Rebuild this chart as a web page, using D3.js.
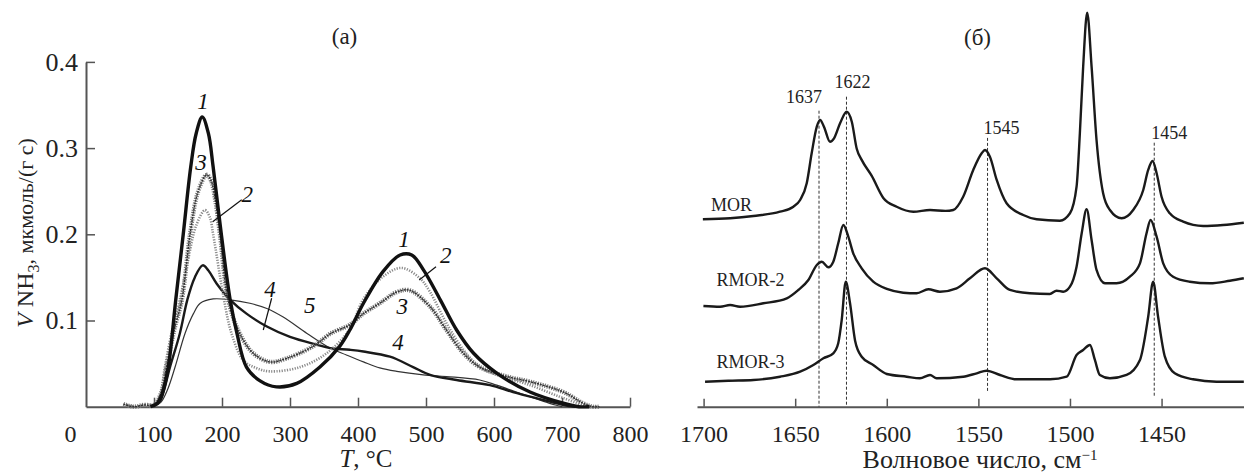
<!DOCTYPE html>
<html><head><meta charset="utf-8">
<script src="https://cdn.jsdelivr.net/npm/d3@7"></script>
<style>
html,body{margin:0;padding:0;background:#fff;}
svg{display:block;font-family:"Liberation Serif","Times New Roman",serif;}
</style></head>
<body>
<svg id="c" width="1244" height="475"></svg>
<script>
// ---------- Panel (a): TPD of NH3 ----------
const xTicksA = [0,100,200,300,400,500,600,700,800];
const yTicksA = [0.1,0.2,0.3,0.4];
const curve1 = [[95,0],[105,0.004],[112,0.015],[121,0.046],[132,0.124],[143,0.2],[154,0.278],[162,0.317],[171,0.336],[180,0.317],[187,0.278],[199,0.2],[212,0.124],[222,0.085],[236,0.046],[256,0.030],[280,0.023],[310,0.027],[344,0.046],[373,0.07],[388,0.089],[408,0.12],[437,0.157],[462,0.176],[479,0.176],[496,0.159],[521,0.124],[545,0.089],[570,0.062],[604,0.039],[653,0.017],[702,0.004],[725,0],[740,0]];
const curve2 = [[60,0.002],[75,0],[90,0.003],[100,0.002],[108,0.01],[116,0.046],[127,0.09],[138,0.124],[150,0.17],[162,0.21],[175,0.228],[182,0.22],[187,0.2],[203,0.124],[214,0.085],[231,0.054],[250,0.045],[270,0.041],[315,0.046],[354,0.062],[388,0.09],[408,0.125],[437,0.151],[464,0.161],[491,0.149],[506,0.133],[530,0.097],[555,0.066],[579,0.046],[604,0.037],[653,0.025],[702,0.01],[740,0],[752,0]];
const curve3 = [[55,0.003],[70,0],[85,0.002],[100,0.002],[110,0.015],[118.6,0.046],[130,0.09],[141,0.124],[153,0.2],[165,0.25],[177.5,0.269],[184,0.262],[190,0.24],[197,0.2],[209,0.124],[226,0.085],[246,0.062],[270,0.052],[295,0.056],[334,0.07],[360,0.085],[388,0.095],[408,0.108],[432,0.12],[457,0.133],[476,0.135],[506,0.116],[530,0.089],[555,0.062],[579,0.046],[619,0.035],[653,0.029],[702,0.017],[731,0.004],[745,0],[755,0]];
const curve4 = [[95,0],[105,0.004],[110,0.008],[123.5,0.046],[138,0.085],[149,0.124],[160,0.15],[171.6,0.164],[180,0.158],[192,0.143],[212,0.124],[236,0.108],[266,0.093],[300,0.081],[339,0.072],[359,0.068],[388,0.066],[408,0.064],[447,0.058],[481,0.046],[506,0.037],[545,0.031],[594,0.025],[628,0.017],[672,0.008],[702,0.002],[720,0]];
const curve5 = [[100,0],[110,0.005],[120,0.02],[131,0.046],[145.6,0.085],[158,0.108],[168,0.12],[187,0.125],[212,0.124],[241,0.12],[266,0.114],[290,0.104],[325,0.085],[359,0.068],[383,0.06],[408,0.052],[432,0.045],[457,0.041],[496,0.037],[530,0.035],[579,0.031],[604,0.025],[640,0.015],[670,0.007],[690,0.002],[700,0]];
const curveLabelsA = [
  {t:"1",T:172,v:0.345},{t:"3",T:169,v:0.275},{t:"2",T:237,v:0.2375},
  {t:"4",T:270.6,v:0.127},{t:"5",T:329,v:0.109},
  {t:"1",T:467.6,v:0.185},{t:"2",T:529,v:0.167},{t:"3",T:465,v:0.1075},{t:"4",T:459,v:0.066}
];
const leadersA = [
  [[186.3,0.2146],[229,0.24]],
  [[273,0.1258],[260.7,0.089]],
  [[490,0.147],[514.7,0.1624]]
];

// ---------- Panel (б): IR spectra ----------
const xTicksB = [1700,1650,1600,1550,1500,1450];
const specMOR = [[1700.4,0.4685],[1685.5,0.471],[1672.8,0.4768],[1658.3,0.4875],[1651.0,0.5],[1647.3,0.5168],[1643.7,0.5585],[1641.0,0.6335],[1638.2,0.70],[1636.4,0.7168],[1634.3,0.70],[1631.0,0.6625],[1628.8,0.671],[1625.5,0.7085],[1621.9,0.7375],[1619.1,0.7125],[1616.4,0.645],[1613.7,0.617],[1608.2,0.577],[1601.9,0.522],[1594.6,0.5],[1585.5,0.4875],[1576.4,0.4918],[1568,0.4895],[1563.7,0.4918],[1558.3,0.525],[1552.8,0.5918],[1548.2,0.6335],[1546.4,0.6418],[1543.7,0.625],[1540.0,0.5668],[1534.6,0.5085],[1525.5,0.4793],[1518.2,0.4685],[1505.5,0.465],[1500.0,0.4835],[1496.4,0.55],[1494.6,0.6835],[1492.8,0.85],[1490.6,0.985],[1488.2,0.85],[1485.5,0.6668],[1481.9,0.5335],[1478.2,0.4918],[1471.8,0.471],[1465.5,0.4918],[1460.0,0.5418],[1457.3,0.5918],[1454.9,0.6143],[1452.7,0.5835],[1450.0,0.525],[1445.5,0.4835],[1438.2,0.4625],[1427.3,0.4518],[1416.4,0.4543],[1405.1,0.46]];
const specRMOR2 = [[1700.1,0.2518],[1691.0,0.25],[1685.5,0.2543],[1680.1,0.25],[1667.4,0.2585],[1654.6,0.271],[1648.3,0.2918],[1642.8,0.3168],[1638.2,0.3543],[1635.5,0.3625],[1631.9,0.3485],[1629.2,0.3625],[1626.5,0.4085],[1623.7,0.4543],[1621.0,0.425],[1618.3,0.3835],[1613.7,0.346],[1607.4,0.3125],[1600.0,0.2943],[1591.0,0.285],[1583.7,0.2835],[1577.3,0.2935],[1571.0,0.2875],[1561.9,0.296],[1554.6,0.321],[1546.4,0.346],[1540.0,0.321],[1532.8,0.2918],[1521.9,0.2835],[1511.0,0.2818],[1507.3,0.29],[1503.7,0.2875],[1500.0,0.30],[1496.4,0.35],[1493.6,0.4335],[1490.9,0.4935],[1488.2,0.4168],[1485.5,0.3418],[1480.9,0.3085],[1474.6,0.3085],[1467.3,0.325],[1461.8,0.3585],[1458.2,0.4335],[1456.0,0.4668],[1452.7,0.425],[1449.1,0.3585],[1443.7,0.325],[1434.6,0.3125],[1423.6,0.3085],[1412.7,0.315],[1405.1,0.321]];
const specRMOR3 = [[1699.2,0.0625],[1686.5,0.065],[1672.8,0.0668],[1658.3,0.075],[1647.3,0.0875],[1640.1,0.1043],[1634.6,0.121],[1629.2,0.1335],[1626.5,0.1585],[1624.6,0.2168],[1622.4,0.3125],[1620.1,0.26],[1617.3,0.165],[1613.7,0.125],[1607.4,0.1043],[1600.0,0.0818],[1589.1,0.075],[1581.9,0.071],[1576.4,0.0793],[1572.8,0.071],[1558.3,0.075],[1550.9,0.0835],[1545.5,0.09],[1538.2,0.0793],[1529.1,0.0685],[1510.9,0.0685],[1501.8,0.075],[1496.4,0.1293],[1492.8,0.1418],[1489.1,0.1543],[1486.4,0.1168],[1483.7,0.0793],[1478.2,0.071],[1469.1,0.0793],[1461.8,0.1168],[1457.3,0.225],[1454.6,0.3125],[1451.9,0.225],[1448.2,0.125],[1442.8,0.0835],[1432.8,0.0685],[1420.0,0.0625],[1405.1,0.0625]];
const specNames = ["MOR","RMOR-2","RMOR-3"];
const specLabelPos = [[1696,0.49],[1693,0.303],[1693,0.098]];
const peakMarks = [1637,1622,1545,1454];

// ---------- drawing ----------
const svg = d3.select("#c");
const FONT = '"Liberation Serif","Times New Roman",serif';
const axisColor = "#555";

// Panel (a) scales
const xA = d3.scaleLinear().domain([0,800]).range([86,630]);
const yA = d3.scaleLinear().domain([0,0.4]).range([406.7,61.9]);

const gA = svg.append("g");
const yAxisA = gA.append("g").attr("transform",`translate(${xA(0)},0)`)
  .call(d3.axisLeft(yA).tickValues(yTicksA).tickSize(-9).tickSizeOuter(0).tickPadding(8).tickFormat(d3.format(".1f")));
const xAxisA = gA.append("g").attr("transform",`translate(0,${yA(0)})`)
  .call(d3.axisBottom(xA).tickValues(xTicksA).tickSize(-9).tickSizeOuter(0).tickFormat(d3.format("d")));
[yAxisA,xAxisA].forEach(a=>{
  a.select(".domain").attr("stroke",axisColor).attr("stroke-width",2);
  a.selectAll(".tick line").attr("stroke",axisColor).attr("stroke-width",1.5);
  a.selectAll("text").attr("fill","#222").style("font-family",FONT);
});
yAxisA.selectAll("text").style("font-size","26px");
xAxisA.selectAll("text").style("font-size","24px").attr("dy",null).attr("y",35);
xAxisA.selectAll(".tick").filter(d=>d===0).select("line").remove();
xAxisA.selectAll(".tick").filter(d=>d===0).select("text").attr("dx",-16);

const lineA = d3.line().x(d=>xA(d[0])).y(d=>yA(d[1])).curve(d3.curveCatmullRom.alpha(0.5));

// curve 5 thin
gA.append("path").attr("d",lineA(curve5)).attr("fill","none").attr("stroke","#333").attr("stroke-width",1.2);
// curve 4 medium
gA.append("path").attr("d",lineA(curve4)).attr("fill","none").attr("stroke","#1a1a1a").attr("stroke-width",2.4);
// curve 2 light dotted
gA.append("path").attr("d",lineA(curve2)).attr("fill","none").attr("stroke","#8a8a8a").attr("stroke-width",2.6).attr("stroke-dasharray","1.2,1.4");
// curve 3 hatched
gA.append("path").attr("d",lineA(curve3)).attr("fill","none").attr("stroke","#7a7a7a").attr("stroke-width",4.4).attr("stroke-dasharray","1.2,1.2");
gA.append("path").attr("d",lineA(curve3)).attr("fill","none").attr("stroke","#333").attr("stroke-width",1.5).attr("stroke-dasharray","2,1");
// curve 1 thick
gA.append("path").attr("d",lineA(curve1)).attr("fill","none").attr("stroke","#111").attr("stroke-width",3.4);

// leaders & labels
leadersA.forEach(l=>{
  gA.append("line").attr("x1",xA(l[0][0])).attr("y1",yA(l[0][1])).attr("x2",xA(l[1][0])).attr("y2",yA(l[1][1]))
    .attr("stroke","#111").attr("stroke-width",1.2);
});
gA.selectAll("text.cl").data(curveLabelsA).join("text").attr("class","cl")
  .attr("x",d=>xA(d.T)).attr("y",d=>yA(d.v)).attr("text-anchor","middle")
  .style("font-family",FONT).style("font-size","23px").style("font-style","italic").attr("fill","#111")
  .text(d=>d.t);

// titles panel (a)
gA.append("text").attr("x",344.5).attr("y",44).attr("text-anchor","middle")
  .style("font-family",FONT).style("font-size","23px").attr("fill","#222").text("(a)");
const xtA = gA.append("text").attr("x",366).attr("y",467).attr("text-anchor","middle")
  .style("font-family",FONT).style("font-size","25px").attr("fill","#222");
xtA.append("tspan").style("font-style","italic").text("T");
xtA.append("tspan").text(", °C");
const ytA = gA.append("text").attr("transform","translate(33,233) rotate(-90)").attr("text-anchor","middle")
  .style("font-family",FONT).style("font-size","22px").attr("fill","#222");
ytA.append("tspan").style("font-style","italic").style("font-size","24px").text("V");
ytA.append("tspan").style("font-size","24px").text(" NH");
ytA.append("tspan").attr("dy",6).style("font-size","16px").text("3");
ytA.append("tspan").attr("dy",-6).text(", мкмоль/(г с)");

// Panel (б) scales
const xB = d3.scaleLinear().domain([1703.6,1405]).range([697,1244]);
const yB = d3.scaleLinear().domain([0,1]).range([406.7,6.7]);
const gB = svg.append("g");
const xAxisB = gB.append("g").attr("transform",`translate(0,${yB(0)})`)
  .call(d3.axisBottom(xB).tickValues(xTicksB).tickSize(-8).tickSizeOuter(0).tickFormat(d3.format("d")));
xAxisB.select(".domain").attr("stroke",axisColor).attr("stroke-width",2);
xAxisB.selectAll(".tick line").attr("stroke",axisColor).attr("stroke-width",1.5);
xAxisB.selectAll("text").attr("fill","#222").style("font-family",FONT).style("font-size","24px").attr("dy",null).attr("y",35);

// dashed marker lines
const markTop = [0.74,0.775,0.672,0.66];
const markBot = [0,0,0.037,0.025];
const markLabelY = [0.76,0.797,0.682,0.67];
const markDx = [-15,6,14,15];
peakMarks.forEach((w,i)=>{
  gB.append("line").attr("x1",xB(w)).attr("x2",xB(w)).attr("y1",yB(markTop[i])).attr("y2",yB(markBot[i]))
    .attr("stroke","#333").attr("stroke-width",1).attr("stroke-dasharray","3,2");
  gB.append("text").attr("x",xB(w)+markDx[i]).attr("y",yB(markLabelY[i])).attr("text-anchor","middle")
    .style("font-family",FONT).style("font-size","18px").attr("fill","#222").text(w);
});

const lineB = d3.line().x(d=>xB(d[0])).y(d=>yB(d[1])).curve(d3.curveMonotoneX);
[specMOR,specRMOR2,specRMOR3].forEach(s=>{
  gB.append("path").attr("d",lineB(s)).attr("fill","none").attr("stroke","#1a1a1a").attr("stroke-width",2.4).attr("stroke-linejoin","round");
});
specNames.forEach((n,i)=>{
  gB.append("text").attr("x",xB(specLabelPos[i][0])).attr("y",yB(specLabelPos[i][1]))
    .style("font-family",FONT).style("font-size","18px").attr("fill","#222").text(n);
});

gB.append("text").attr("x",977.5).attr("y",45).attr("text-anchor","middle")
  .style("font-family",FONT).style("font-size","23px").attr("fill","#222").text("(б)");
const xtB = gB.append("text").attr("x",980).attr("y",468).attr("text-anchor","middle")
  .style("font-family",FONT).style("font-size","26px").attr("fill","#222");
xtB.append("tspan").text("Волновое число, см");
xtB.append("tspan").attr("dy",-8).style("font-size","15px").text("−1");
</script>
</body></html>
